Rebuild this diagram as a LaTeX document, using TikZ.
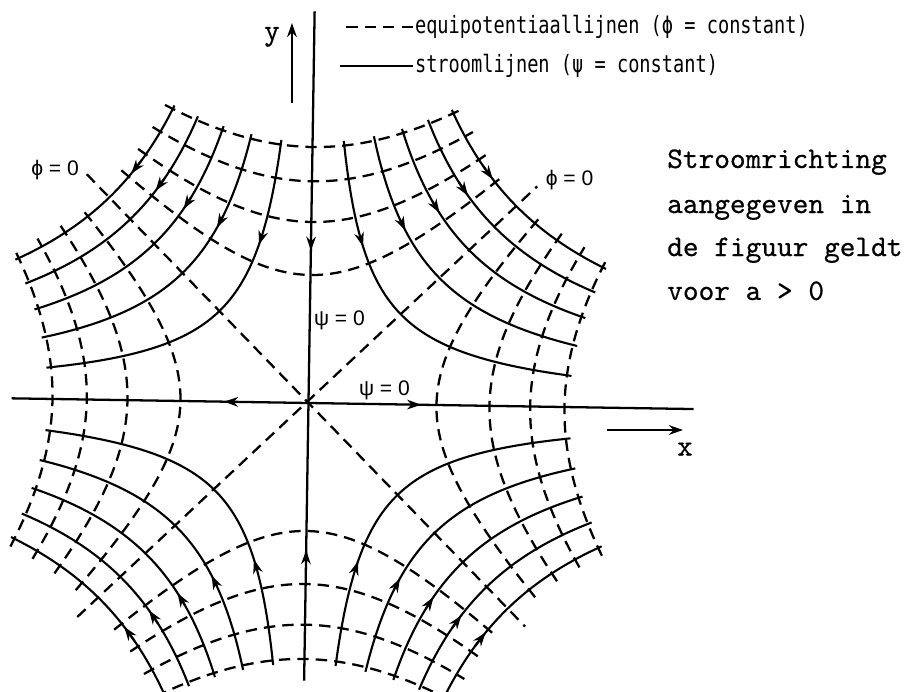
\documentclass[tikz,border=0pt]{standalone}
\usepackage{fontspec}
\newfontfamily\legendfont{DejaVu Sans Mono}[FakeStretch=0.78]
\newfontfamily\labelfont{Liberation Sans}
\newfontfamily\typewriter{lmmono10-regular.otf}[FakeBold=0.5]
\usetikzlibrary{arrows.meta}

\begin{document}
\begin{tikzpicture}[
    x=2.56cm, y=2.56cm,
    stream/.style={line width=1.2pt},
    equipot/.style={line width=1.3pt, dash pattern=on 6.5pt off 4pt},
    axisline/.style={line width=1.3pt},
    flowtip/.style={-{Stealth[length=8pt,width=5.5pt]}, line width=1.2pt},
    legendtext/.style={font=\legendfont\fontsize{13.6}{16}\selectfont, inner sep=1pt, anchor=west},
    netlabel/.style={font=\labelfont\fontsize{12}{13}\selectfont, inner sep=0pt},
    notetext/.style={font=\typewriter\fontsize{17}{20}\selectfont, inner sep=0pt, anchor=base west}
]

\useasboundingbox (-2.41,-2.2578) rectangle (4.7227,3.1484);

% Flow net, slightly rotated like the scan
\begin{scope}[rotate=-0.9]

% Streamlines (psi = constant)
\foreach \sx/\sy in {1/1,-1/1,-1/-1,1/-1}{
  \foreach \m in {1,...,5}{
    \pgfmathsetmacro\c{sqrt(\m/2)}
    \pgfmathsetmacro\tend{0.5*ln(4.15/\m+sqrt((4.15/\m)^2+1))}
    \pgfmathsetmacro\ta{-0.5*ln(1.45/\m+sqrt((1.45/\m)^2+1))}
    \draw[stream] plot[domain=-\tend:\tend, samples=30, smooth, variable=\t]
      ({\sx*\c*exp(\t)},{\sy*\c*exp(-\t)});
    \draw[flowtip] ({\sx*\c*exp(\ta-0.03)},{\sy*\c*exp(-\ta+0.03)})
      -- ({\sx*\c*exp(\ta+0.03)},{\sy*\c*exp(-\ta-0.03)});
  }
}

% Equipotential lines (phi = constant)
\foreach \n in {1,...,4}{
  \pgfmathsetmacro\r{sqrt(\n)}
  \pgfmathsetmacro\tauend{0.5*ln(5.35/\n+sqrt((5.35/\n)^2+1))}
  \draw[equipot] plot[domain=-\tauend:\tauend, samples=30, smooth, variable=\t]
    ({\r*sinh(\t)},{\r*cosh(\t)});
  \draw[equipot] plot[domain=-\tauend:\tauend, samples=30, smooth, variable=\t]
    ({\r*sinh(\t)},{-\r*cosh(\t)});
  \draw[equipot] plot[domain=-\tauend:\tauend, samples=30, smooth, variable=\t]
    ({\r*cosh(\t)},{\r*sinh(\t)});
  \draw[equipot] plot[domain=-\tauend:\tauend, samples=30, smooth, variable=\t]
    ({-\r*cosh(\t)},{\r*sinh(\t)});
}

% phi = 0
\coordinate (nw) at (-1.76,1.76);
\coordinate (se) at (1.72,-1.72);
\coordinate (ne) at (1.76,1.72);
\coordinate (sw) at (-1.78,-1.70);
\draw[equipot] (nw) -- (se);
\draw[equipot] (sw) -- (ne);

% Axes (psi = 0)
\coordinate (west) at (-2.32,0);
\coordinate (east) at (3.01,0);
\coordinate (south) at (0,-2.17);
\coordinate (north) at (0,3.06);
\draw[axisline] (west) -- (east);
\draw[axisline] (south) -- (north);
\draw[flowtip] (-0.58,0) -- (-0.66,0);
\draw[flowtip] (0.80,0) -- (0.88,0);
\draw[flowtip] (0,1.27) -- (0,1.19);
\draw[flowtip] (0,-1.23) -- (0,-1.15);

\end{scope}

% Labels in the net
\node[netlabel] (psiv) at (0.242,0.648) {ψ = 0};
\node[netlabel] (psih) at (0.594,0.102) {ψ = 0};
\node[netlabel] (phil) at (-1.98,1.82) {ϕ = 0};
\node[netlabel] (phir) at (2.04,1.742) {ϕ = 0};

% Coordinate arrows
\node[font=\typewriter\fontsize{17}{20}\selectfont, inner sep=0pt] (ylab) at (-0.285,2.86) {y};
\coordinate (ytail) at (-0.129,2.344);
\coordinate (yhead) at (-0.129,2.969);
\draw[-{Stealth[length=8pt,width=5.5pt]}, line width=1.2pt] (ytail) -- (yhead);
\coordinate (xtail) at (2.332,-0.211);
\coordinate (xhead) at (2.926,-0.211);
\draw[-{Stealth[length=8pt,width=5.5pt]}, line width=1.2pt] (xtail) -- (xhead);
\node[font=\typewriter\fontsize{17}{20}\selectfont, inner sep=0pt] (xlab) at (2.941,-0.36) {x};

% Legend
\node[legendtext] (eqtext) at (0.816,2.9375) {equipotentiaallijnen (ϕ = constant)};
\node[legendtext] (sttext) at (0.816,2.633) {stroomlijnen (ψ = constant)};
\draw[equipot] (eqtext.west) -- ++(-0.554,0);
\draw[stream] (sttext.west) -- ++(-0.57,0);

% Note
\node[notetext] (note1) at (2.80,1.836) {Stroomrichting};
\node[notetext] (note2) at (2.80,1.484) {aangegeven in};
\node[notetext] (note3) at (2.80,1.148) {de figuur geldt};
\node[notetext] (note4) at (2.80,0.805) {voor a > 0};

\end{tikzpicture}
\end{document}
